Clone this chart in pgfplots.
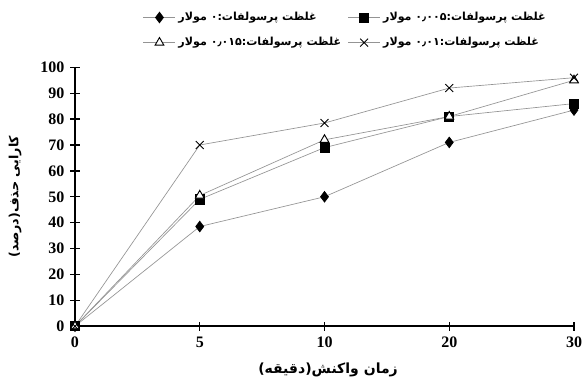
\documentclass[border=0pt]{standalone}
\usepackage{fontspec}
\setmainfont{Liberation Serif}
\newfontfamily\fa[Script=Arabic, BoldFont={DejaVu Sans Bold}]{DejaVu Sans}
\TeXXeTstate=1
\usepackage{pgfplots}
\pgfplotsset{compat=1.18}
\definecolor{linegray}{gray}{0.58}

\begin{document}
\begin{tikzpicture}
\begin{axis}[
  scale only axis,
  width=374pt, height=194pt,
  xmin=0, xmax=4, ymin=0, ymax=100,
  xtick={0,1,2,3,4}, xticklabels={0,5,10,20,30},
  ytick={0,10,...,100},
  axis x line=bottom, axis y line=left,
  axis line style={-, line width=1.5pt},
  tick align=center, major tick length=7pt,
  tick style={line width=1pt, black},
  tick label style={font=\fontsize{12}{14}\selectfont\bfseries},
  /pgf/number format/assume math mode=true,
  xticklabel style={yshift=-1pt},
  yticklabel style={xshift=-1pt},
  clip=false,
  xlabel={\fa\bfseries\beginR زمان واکنش(دقیقه)\endR},
  xlabel style={at={(axis description cs:0.507,-0.17)}, anchor=center, font=\fontsize{10.5}{12}\selectfont},
  ylabel={\fa\bfseries\beginR کارایی حذف(درصد)\endR},
  ylabel style={at={(axis description cs:-0.12,0.5)}, anchor=center, font=\fontsize{9.5}{11}\selectfont},
  legend columns=2,
  legend style={draw=none, fill=none, at={(axis description cs:0.136,1.144)}, anchor=west,
    inner sep=0pt, font=\fontsize{8.3}{10}\selectfont, row sep=7pt,
    /tikz/every even column/.append style={column sep=3pt}},
  legend cell align=left,
  legend image code/.code={\draw[#1, mark repeat=2, mark phase=2] plot coordinates {(0pt,0pt) (12pt,0pt) (24pt,0pt)};},
  every axis plot/.append style={line width=0.5pt, color=linegray},
]
% concentration 0 M
\addplot[mark=diamond*, mark size=4pt, mark options={black, fill=black, solid}]
  coordinates {(0,0) (1,38.5) (2,50) (3,71) (4,83.5)};
\addlegendentry{\fa\bfseries\beginR غلظت پرسولفات:\beginL ۰\endL{} مولار\endR}
% concentration 0.005 M
\addplot[mark=square*, mark size=3.4pt, mark options={black, fill=black, solid}]
  coordinates {(0,0) (1,49) (2,69) (3,81) (4,86)};
\addlegendentry{\fa\bfseries\beginR غلظت پرسولفات:\beginL ۰٫۰۰۵\endL{} مولار\endR}
% concentration 0.015 M
\addplot[mark=triangle*, mark size=3.8pt, mark options={black, fill=white, solid, line width=0.7pt}]
  coordinates {(0,0) (1,50.5) (2,72) (3,81) (4,95)};
\addlegendentry{\fa\bfseries\beginR غلظت پرسولفات:\beginL ۰٫۰۱۵\endL{} مولار\endR}
% concentration 0.01 M
\addplot[mark=x, mark size=4.2pt, mark options={black, solid, line width=0.7pt}]
  coordinates {(0,0) (1,70) (2,78.5) (3,92) (4,96)};
\addlegendentry{\fa\bfseries\beginR غلظت پرسولفات:\beginL ۰٫۰۱\endL{} مولار\endR}

\coordinate (bbsw) at (axis description cs:-0.1503,-0.2126);
\coordinate (bbne) at (axis description cs:1.0200,1.2602);
\end{axis}
\pgfresetboundingbox
\path[use as bounding box] (bbsw) rectangle (bbne);
\end{tikzpicture}
\end{document}
